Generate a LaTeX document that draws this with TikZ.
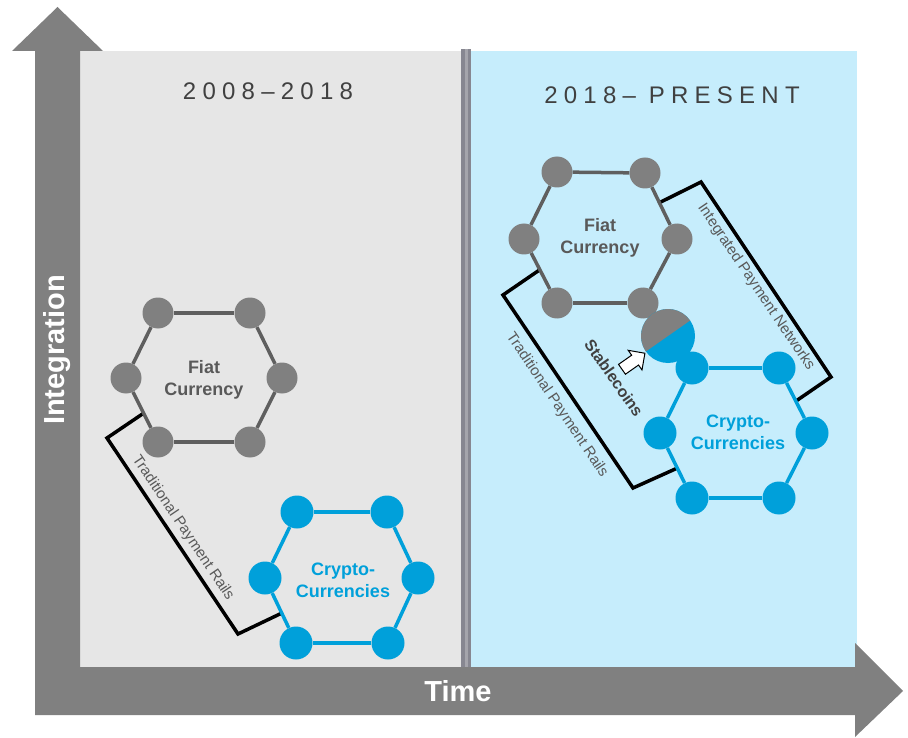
\documentclass[tikz,border=0pt]{standalone}
\usepackage{fontspec}
\setmainfont{Liberation Sans}
\newfontfamily\spacedfont[LetterSpace=26]{Liberation Sans}
\usetikzlibrary{calc, positioning}
\usetikzlibrary{shapes.arrows}

\definecolor{axisgray}{RGB}{128,128,128}
\definecolor{fiatgray}{RGB}{128,128,128}
\definecolor{fiatline}{RGB}{95,95,95}
\definecolor{cryptoblue}{RGB}{0,160,218}
\definecolor{panelgray}{RGB}{230,230,230}
\definecolor{panelblue}{RGB}{198,237,252}
\definecolor{dividergray}{RGB}{135,135,145}
\definecolor{dividerlight}{RGB}{165,165,172}
\definecolor{titlegray}{RGB}{64,64,64}
\definecolor{labelgray}{RGB}{89,89,89}

\begin{document}
\begin{tikzpicture}[x=1pt,y=-1pt,
  fiatdot/.style={circle,fill=fiatgray,minimum size=31pt,inner sep=0pt},
  cryptodot/.style={circle,fill=cryptoblue,minimum size=33pt,inner sep=0pt},
  fiatedge/.style={draw=fiatline,line width=3.5pt},
  cryptoedge/.style={draw=cryptoblue,line width=3.5pt},
  rail/.style={draw=black,line width=3.5pt,line join=miter},
  raillabel/.style={text=labelgray,font=\fontsize{15}{18}\selectfont},
  hexlabel/.style={align=center,font=\bfseries\fontsize{18}{22}\selectfont},
  period/.style={text=titlegray,font=\spacedfont\fontsize{24}{28}\selectfont},
  axislabel/.style={text=white,font=\bfseries\fontsize{29}{34}\selectfont}]
\useasboundingbox (0,0) rectangle (908,738);
% panels
\fill[panelgray] (80,51) rectangle (462,667);
\fill[panelblue] (470,51) rectangle (857,667);
\fill[dividergray] (461,49) rectangle (471,667);
\fill[dividerlight] (464.5,49) rectangle (467.5,667);
% axes
\fill[axisgray] (35,715) -- (35,51) -- (12,51) -- (57.5,7) -- (103,51) -- (80,51) -- (80,667)
  -- (855,667) -- (855,643) -- (903,691) -- (855,737) -- (855,715) -- cycle;
\node[axislabel,rotate=90] (integration) at (57,350) {Integration};
\node[axislabel] (time) at (458,691) {Time};
\node[period] (early) at (268,91) {2008–2018};
\node[period] (late) at (672,95) {2018– PRESENT};

% 2008-2018
\foreach \n/\x/\y in {1/158/313, 2/250/313, 3/126/378, 4/282/378, 5/158/442, 6/250/442}
  \node[fiatdot] (lf\n) at (\x,\y) {};
\foreach \n/\x/\y in {1/297/512, 2/387/512, 3/265/578, 4/418/578, 5/296/643, 6/388/643}
  \node[cryptodot] (lc\n) at (\x,\y) {};
\coordinate (lrailA) at ($(lf3)!0.55!(lf5)$);
\coordinate (lrailB) at ($(lc3)!0.54!(lc5)$);
\draw[rail] (lrailA) -- (107,438) -- (238,634) -- (lrailB);
\foreach \a/\b in {1/2,2/4,4/6,6/5,5/3,3/1} {
  \draw[fiatedge] (lf\a) -- (lf\b);
  \draw[cryptoedge] (lc\a) -- (lc\b);
}
\node[hexlabel,text=labelgray] (lfiat) at (204,380) {Fiat\\Currency};
\node[hexlabel,text=cryptoblue] (lcrypto) at (343,580) {Crypto-\\Currencies};
\node[raillabel,rotate=-56] (lrails) at (183,528) {Traditional Payment Rails};

% 2018-present
\foreach \n/\x/\y in {1/557/172, 2/645/173, 3/524/239, 4/677/239, 5/557/303, 6/643/303}
  \node[fiatdot] (rf\n) at (\x,\y) {};
\foreach \n/\x/\y in {1/692/368, 2/779/368, 3/660/433, 4/812/433, 5/692/498, 6/779/498}
  \node[cryptodot] (rc\n) at (\x,\y) {};
\coordinate (rrailA) at ($(rf3)!0.48!(rf5)$);
\coordinate (rrailB) at ($(rc3)!0.54!(rc5)$);
\coordinate (netA) at ($(rf2)!0.45!(rf4)$);
\coordinate (netB) at ($(rc2)!0.51!(rc4)$);
\draw[rail] (rrailA) -- (503,295) -- (633,488) -- (rrailB);
\draw[rail] (netA) -- (701,182) -- (831,377) -- (netB);
\foreach \a/\b in {1/2,2/4,4/6,6/5,5/3,3/1} {
  \draw[fiatedge] (rf\a) -- (rf\b);
  \draw[cryptoedge] (rc\a) -- (rc\b);
}
\node[circle,fill=cryptoblue,minimum size=54pt,inner sep=0pt] (stable) at (668,336) {};
\fill[fiatgray] (stable.center) -- ++(-35:27) arc[start angle=-35,end angle=-215,radius=27] -- cycle;
\node[single arrow,draw=black,fill=white,line width=1pt,minimum height=28pt,inner sep=5.5pt,
  single arrow head extend=6pt,rotate=35] (pointer) at (631,363) {};
\node[hexlabel,text=labelgray] (rfiat) at (600,238) {Fiat\\Currency};
\node[hexlabel,text=cryptoblue] (rcrypto) at (738,432) {Crypto-\\Currencies};
\node[raillabel,rotate=-56] (rrails) at (557,405) {Traditional Payment Rails};
\node[raillabel,rotate=-56] (networks) at (756,287) {Integrated Payment Networks};
\node[rotate=-55,text=titlegray,font=\bfseries\fontsize{16}{19}\selectfont] (stablelabel) at (614,378) {Stablecoins};
\end{tikzpicture}
\end{document}
